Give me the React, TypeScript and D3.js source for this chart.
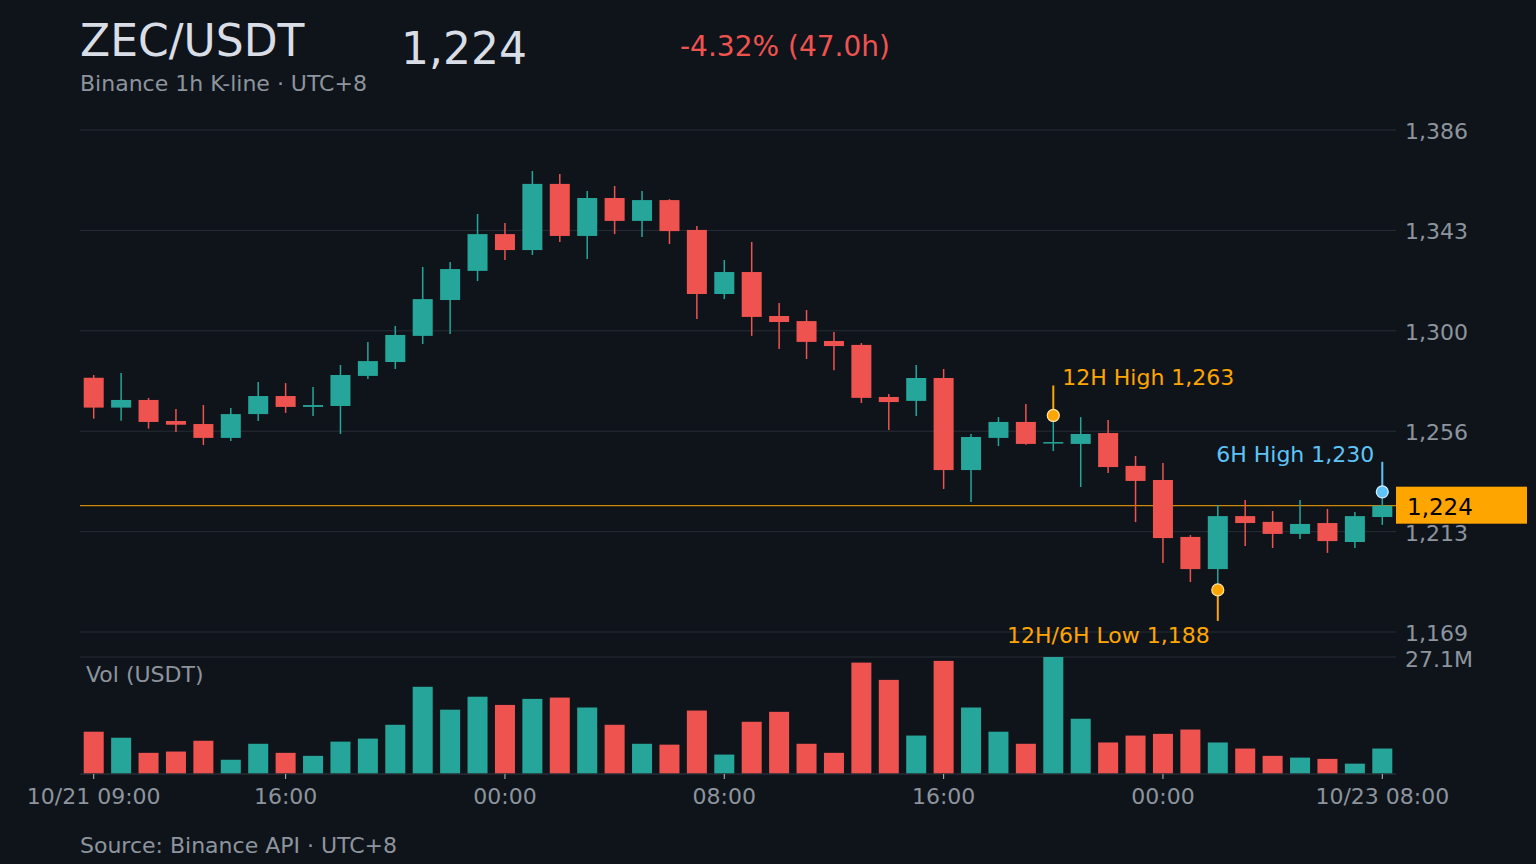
import { useEffect, useRef } from 'react';
import * as d3 from 'd3';

const W = 1536;
const H = 864;

const symbol = 'ZEC/USDT';
const subtitle = 'Binance 1h K-line · UTC+8';
const sourceNote = 'Source: Binance API · UTC+8';
const startTime = new Date(2025, 9, 21, 9, 0);

// hourly candles, 10/21 09:00 -> 10/23 08:00
const opens = [
  1279.3, 1266.4, 1269.7, 1260.6, 1259.3, 1253.3, 1263.6, 1271.4, 1266.7, 1267.1, 1280.1, 1286.1,
  1297.4, 1312.9, 1325.5, 1341.4, 1334.5, 1363.1, 1340.6, 1357.0, 1347.1, 1356.1, 1343.2, 1315.5,
  1325.0, 1306.0, 1303.8, 1295.2, 1293.5, 1271.0, 1269.3, 1279.2, 1239.4, 1253.3, 1260.2, 1251.0,
  1250.7, 1255.4, 1241.2, 1235.1, 1210.5, 1196.6, 1219.5, 1217.0, 1211.8, 1216.5, 1208.3, 1219.1,
];
const highs = [
  1280.5, 1281.4, 1270.6, 1265.8, 1267.5, 1266.2, 1277.5, 1277.0, 1275.3, 1284.8, 1294.8, 1301.7,
  1327.2, 1329.3, 1350.1, 1346.2, 1368.7, 1367.4, 1360.0, 1362.2, 1360.0, 1356.5, 1344.9, 1330.2,
  1338.0, 1311.6, 1308.6, 1299.1, 1294.3, 1272.3, 1284.8, 1283.1, 1255.0, 1262.3, 1268.0, 1263.0,
  1262.3, 1261.0, 1245.5, 1242.5, 1211.3, 1224.3, 1226.5, 1221.7, 1226.5, 1222.6, 1221.3, 1230.0,
];
const lows = [
  1261.6, 1260.7, 1257.3, 1255.9, 1250.2, 1252.0, 1260.6, 1264.1, 1262.8, 1255.0, 1278.8, 1283.1,
  1293.9, 1298.2, 1321.1, 1330.2, 1332.4, 1338.0, 1330.6, 1341.4, 1340.1, 1337.1, 1304.7, 1313.3,
  1297.4, 1291.7, 1287.4, 1282.6, 1268.4, 1256.7, 1262.8, 1231.2, 1225.6, 1249.8, 1250.3, 1247.6,
  1232.1, 1238.1, 1216.9, 1199.2, 1191.0, 1187.6, 1206.6, 1205.7, 1209.6, 1203.6, 1205.7, 1215.7,
];
const closes = [
  1266.4, 1269.7, 1260.2, 1259.0, 1253.3, 1263.6, 1271.4, 1266.7, 1267.5, 1280.5, 1286.5, 1297.8,
  1313.3, 1326.3, 1341.4, 1334.5, 1363.1, 1340.6, 1357.0, 1347.1, 1356.1, 1342.7, 1315.5, 1325.0,
  1305.6, 1303.4, 1294.8, 1293.0, 1270.6, 1268.8, 1279.2, 1239.4, 1253.7, 1260.2, 1250.7, 1251.5,
  1255.0, 1240.7, 1234.7, 1210.0, 1196.6, 1219.5, 1216.5, 1211.8, 1216.1, 1208.7, 1219.5, 1224.0,
];
// quote volume, millions of USDT
const volumes = [
  9.8, 8.4, 4.9, 5.2, 7.7, 3.3, 7.0, 4.9, 4.2, 7.5, 8.2, 11.4,
  20.2, 14.9, 17.9, 16.0, 17.4, 17.7, 15.4, 11.4, 7.0, 6.8, 14.7, 4.5,
  12.1, 14.4, 7.0, 4.9, 25.8, 21.8, 8.9, 26.2, 15.4, 9.8, 7.0, 27.1,
  12.8, 7.3, 8.9, 9.3, 10.3, 7.3, 5.9, 4.2, 3.8, 3.5, 2.4, 5.9,
];
const priceDomain = [1169.4, 1386.4];

const C = {
  bg: '#0f141b',
  grid: '#272d36',
  text: '#8d949e',
  tick: '#b8bec6',
  title: '#d9dee6',
  up: '#26a69a',
  down: '#ef5350',
  orange: '#ffa500',
  blue: '#5ec4f7',
};
const FONT = '"DejaVu Sans", sans-serif';
const SMALL = '22px';

export default function App() {
  const svgRef = useRef<SVGSVGElement | null>(null);

  useEffect(() => {
    const svg = d3.select(svgRef.current);
    svg.selectAll('*').remove();

    const times = d3.timeHour.range(startTime, d3.timeHour.offset(startTime, opens.length));
    const candles = times.map((t, i) => ({
      i, t, open: opens[i], high: highs[i], low: lows[i], close: closes[i], vol: volumes[i],
    }));
    const last = candles[candles.length - 1];

    const left = 80, right = 1396;
    const x = d3.scaleBand<number>()
      .domain(candles.map(d => d.i))
      .range([left, right])
      .paddingInner(0.27)
      .paddingOuter(0.135);
    const cx = (i: number) => (x(i) as number) + x.bandwidth() / 2;

    const y = d3.scaleLinear().domain(priceDomain).range([632, 130]);
    const yVol = d3.scaleLinear().domain([0, d3.max(volumes) as number]).range([774, 657]);
    const fmt = d3.format(',.0f');

    svg.append('rect').attr('width', W).attr('height', H).attr('fill', C.bg);

    // header
    svg.append('text').attr('x', 80).attr('y', 56).attr('fill', C.title)
      .style('font-size', '44px').text(symbol);
    svg.append('text').attr('x', 401).attr('y', 64).attr('fill', C.title)
      .style('font-size', '44px').text(fmt(last.close));
    const pct = (last.close - candles[0].open) / candles[0].open * 100;
    const hours = (last.t.getTime() - candles[0].t.getTime()) / 3.6e6;
    svg.append('text').attr('x', 680).attr('y', 56)
      .attr('fill', pct < 0 ? C.down : C.up)
      .style('font-size', '28px')
      .text(`${pct >= 0 ? '+' : ''}${pct.toFixed(2)}% (${hours.toFixed(1)}h)`);
    svg.append('text').attr('x', 80).attr('y', 91).attr('fill', C.text)
      .style('font-size', SMALL).text(subtitle);

    // price grid + labels
    const ticks = d3.range(6).map(k => priceDomain[0] + k * (priceDomain[1] - priceDomain[0]) / 5);
    ticks.forEach(v => {
      svg.append('line')
        .attr('x1', left).attr('x2', right)
        .attr('y1', y(v)).attr('y2', y(v))
        .attr('stroke', C.grid).attr('stroke-width', 1);
      svg.append('text')
        .attr('x', 1405).attr('y', y(v) + 1.5)
        .attr('dominant-baseline', 'central')
        .attr('fill', C.text).style('font-size', SMALL)
        .text(fmt(v));
    });

    // volume panel frame
    svg.append('line').attr('x1', left).attr('x2', right)
      .attr('y1', yVol.range()[1]).attr('y2', yVol.range()[1])
      .attr('stroke', C.grid);
    svg.append('text').attr('x', 1405).attr('y', yVol.range()[1] + 2)
      .attr('dominant-baseline', 'central')
      .attr('fill', C.text).style('font-size', SMALL)
      .text(`${d3.format('.1f')(d3.max(volumes) as number)}M`);
    svg.append('text').attr('x', 86).attr('y', 682)
      .attr('fill', C.text).style('font-size', SMALL).text('Vol (USDT)');

    const color = (d: { open: number; close: number }) => (d.close >= d.open ? C.up : C.down);

    svg.append('g').selectAll('rect')
      .data(candles)
      .join('rect')
      .attr('x', d => x(d.i) as number)
      .attr('width', x.bandwidth())
      .attr('y', d => yVol(d.vol))
      .attr('height', d => yVol(0) - yVol(d.vol))
      .attr('fill', color);

    // x axis
    svg.append('line').attr('x1', left).attr('x2', right)
      .attr('y1', yVol(0)).attr('y2', yVol(0))
      .attr('stroke', C.grid).attr('stroke-width', 1.5);
    const tickCandles = candles.filter((d, k) =>
      k === 0 || k === candles.length - 1 || d.t.getHours() % 8 === 0);
    const fmtShort = d3.timeFormat('%H:%M');
    const fmtLong = d3.timeFormat('%m/%d %H:%M');
    tickCandles.forEach(d => {
      const edge = d.i === 0 || d.i === candles.length - 1;
      svg.append('line').attr('x1', cx(d.i)).attr('x2', cx(d.i))
        .attr('y1', yVol(0)).attr('y2', yVol(0) + 5)
        .attr('stroke', C.tick).attr('stroke-width', 1);
      svg.append('text').attr('x', cx(d.i)).attr('y', 804)
        .attr('text-anchor', 'middle')
        .attr('fill', C.text).style('font-size', SMALL)
        .text(edge ? fmtLong(d.t) : fmtShort(d.t));
    });

    // current price line
    svg.append('line').attr('x1', left).attr('x2', right)
      .attr('y1', y(last.close)).attr('y2', y(last.close))
      .attr('stroke', C.orange).attr('stroke-width', 1);

    // candles
    const cg = svg.append('g');
    cg.selectAll('line')
      .data(candles)
      .join('line')
      .attr('x1', d => cx(d.i)).attr('x2', d => cx(d.i))
      .attr('y1', d => y(d.high)).attr('y2', d => y(d.low))
      .attr('stroke', color).attr('stroke-width', 1.5);
    cg.selectAll('rect')
      .data(candles)
      .join('rect')
      .attr('x', d => x(d.i) as number)
      .attr('width', x.bandwidth())
      .attr('y', d => y(Math.max(d.open, d.close)))
      .attr('height', d => Math.max(1.5, Math.abs(y(d.open) - y(d.close))))
      .attr('fill', color);

    // price tag
    svg.append('rect').attr('x', right).attr('y', y(last.close) - 19)
      .attr('width', 131).attr('height', 37).attr('fill', C.orange);
    svg.append('text').attr('x', 1407).attr('y', y(last.close) + 1)
      .attr('dominant-baseline', 'central')
      .attr('fill', '#000').style('font-size', '23px')
      .text(fmt(last.close));

    // rolling high / low markers
    const windowOf = (h: number) =>
      candles.filter(d => last.t.getTime() - d.t.getTime() <= h * 3.6e6);
    const w12 = windowOf(12);
    const w6 = windowOf(6);
    const hi12 = d3.greatest(w12, d => d.high)!;
    const hi6 = d3.greatest(w6, d => d.high)!;
    const lo12 = d3.least(w12, d => d.low)!;
    const lo6 = d3.least(w6, d => d.low)!;

    const markers = [
      { d: hi12, v: hi12.high, up: true, label: `12H High ${fmt(hi12.high)}`, col: C.orange, ring: '#ffe3a8' },
      { d: hi6, v: hi6.high, up: true, label: `6H High ${fmt(hi6.high)}`, col: C.blue, ring: '#d6f0ff' },
      {
        d: lo12, v: lo12.low, up: false,
        label: `${lo12 === lo6 ? '12H/6H' : '12H'} Low ${fmt(lo12.low)}`, col: C.orange, ring: '#ffe3a8',
      },
    ];
    markers.forEach(m => {
      const mx = cx(m.d.i);
      const my = y(m.v);
      const tipY = m.up ? my - 30 : my + 31;
      svg.append('line').attr('x1', mx).attr('x2', mx)
        .attr('y1', my).attr('y2', tipY)
        .attr('stroke', m.col).attr('stroke-width', 2);
      svg.append('circle').attr('cx', mx).attr('cy', my).attr('r', 6)
        .attr('fill', m.col).attr('stroke', m.ring).attr('stroke-width', 1.2);
      const nearRight = mx > 1250;
      const anchor = m.up && !nearRight ? 'start' : 'end';
      svg.append('text')
        .attr('x', anchor === 'start' ? mx + 9 : mx - 8)
        .attr('y', m.up ? tipY : tipY + 22)
        .attr('text-anchor', anchor)
        .attr('fill', m.col).style('font-size', SMALL)
        .text(m.label);
    });

    svg.append('text').attr('x', 80).attr('y', 853).attr('fill', C.text)
      .style('font-size', SMALL).text(sourceNote);
  }, []);

  return (
    <div style={{ position: 'fixed', top: 0, left: 0, width: W, height: H }}>
      <svg ref={svgRef} width={W} height={H} style={{ display: 'block', fontFamily: FONT }} />
    </div>
  );
}
